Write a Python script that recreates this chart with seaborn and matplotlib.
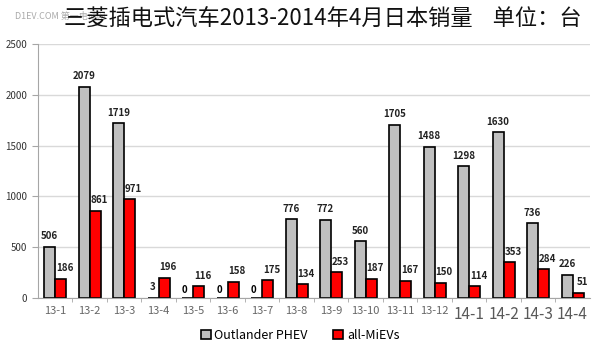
import pandas as pd
import seaborn as sns
import matplotlib.pyplot as plt
from matplotlib.patches import Patch

# Dados
meses = ['13-1', '13-2', '13-3', '13-4', '13-5', '13-6', '13-7', '13-8',
         '13-9', '13-10', '13-11', '13-12', '14-1', '14-2', '14-3', '14-4']
outlander = [506, 2079, 1719, 3, 0, 0, 0, 776, 772, 560, 1705, 1488, 1298, 1630, 736, 226]
miev = [186, 861, 971, 196, 116, 158, 175, 134, 253, 187, 167, 150, 114, 353, 284, 51]
series = ['Outlander PHEV', 'all-MiEVs']
cores = ['#C0C0C0', '#FF0000']

df = pd.DataFrame({
    'mes': meses * 2,
    'vendas': outlander + miev,
    'serie': [series[0]] * len(meses) + [series[1]] * len(meses),
})

plt.rcParams['font.family'] = ['Noto Sans CJK SC', 'DejaVu Sans']

fig = plt.figure(figsize=(6, 3.53), dpi=100, facecolor='white')
ax = fig.add_axes([0.063, 0.156, 0.92, 0.719])

sns.barplot(data=df, x='mes', y='vendas', hue='serie', palette=cores, saturation=1,
            width=0.64, edgecolor='black', linewidth=1.2, ax=ax, legend=False)

ax.set_ylim(0, 2500)
ax.set_xlim(-0.5, len(meses) - 0.5)
ax.set_yticks(range(0, 2501, 500))
ax.yaxis.grid(True, color='#D9D9D9', linewidth=1)
ax.set_axisbelow(True)
ax.set_xlabel('')
ax.set_ylabel('')
for s in ['top', 'right']:
    ax.spines[s].set_visible(False)
ax.spines['left'].set_color('#A6A6A6')
ax.spines['bottom'].set_color('#A6A6A6')
ax.tick_params(axis='y', length=4, color='#A6A6A6', labelsize=7, labelcolor='#333333')
ax.tick_params(axis='x', length=0, pad=6)
ax.set_xticks([i + 0.5 for i in range(len(meses) - 1)], minor=True)
ax.tick_params(axis='x', which='minor', length=3, color='#A6A6A6')

for lbl in ax.get_xticklabels():
    if lbl.get_text().startswith('14'):
        lbl.set_fontsize(11)
        lbl.set_color('#595959')
    else:
        lbl.set_fontsize(8)
        lbl.set_color('#666666')

# Rótulos de valores
for k, cont in enumerate(ax.containers):
    for bar, v in zip(cont, [outlander, miev][k]):
        x = bar.get_x() + bar.get_width() / 2
        if k == 0 and v == 0:
            ax.annotate('0', (x, 0), textcoords='offset points', xytext=(-2, 2),
                        ha='center', va='bottom', fontsize=7, fontweight='bold')
            continue
        dx = 0 if k == 0 else 3
        ax.annotate(f'{v}', (x, bar.get_height()), textcoords='offset points',
                    xytext=(dx, 4), ha='center', va='bottom', fontsize=7,
                    fontweight='bold', color='#222222')

handles = [Patch(facecolor=c, edgecolor='black', linewidth=1.2) for c in cores]
fig.legend(handles, series, loc='lower center', bbox_to_anchor=(0.5, 0.0), ncol=2,
           frameon=False, fontsize=9, handlelength=0.8, handleheight=0.8,
           handletextpad=0.3, columnspacing=2.0)

# marca d'água (no original ela fica por baixo do início do título)
fig.text(0.025, 0.955, 'D1EV.COM 第一电动网', fontsize=6.5, color='#AAAAAA', va='center', zorder=1)
fig.text(0.106, 0.945, '三菱插电式汽车2013-2014年4月日本销量    单位：台',
         fontsize=16, color='#111111', va='center', zorder=2)

plt.savefig('out.png', dpi=100, facecolor='white')
plt.close()
